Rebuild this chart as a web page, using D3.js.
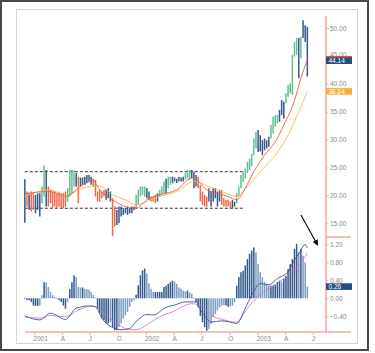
<!DOCTYPE html>
<html lang="en">
<head>
<meta charset="UTF-8">
<title>Weekly bars with MACD</title>
<script src="https://d3js.org/d3.v7.min.js"></script>
<style>
  body { margin: 0; background: #fff; }
  svg { display: block; font-family: "Liberation Sans", Arial, sans-serif; }
  .lbl text { fill: #8a8a8a; font-size: 6.5px; }
</style>
</head>
<body>
<svg id="chart" width="375" height="353"></svg>
<script>
// weekly bars, first week starts 1 Dec 2000
const highs = [22.9,20.7,20.4,20.7,20.4,20.1,20.4,20.4,21.6,25.4,24.55,21.6,21.0,20.7,20.7,20.4,20.7,20.4,20.4,20.7,
  21.3,24.55,24.55,24.55,24.0,23.35,23.2,23.2,23.35,23.66,23.66,23.35,23.0,22.8,20.7,21.0,20.7,21.0,21.0,21.3,
  20.7,19.5,18.0,17.4,18.0,18.0,17.7,17.7,18.0,17.7,18.0,18.0,20.1,21.0,21.6,21.6,21.6,21.3,20.7,19.8,
  19.8,20.1,20.4,21.0,21.6,22.5,23.0,23.35,23.35,23.35,23.2,23.0,23.35,23.2,23.35,24.0,24.55,24.55,24.55,24.25,
  23.66,23.35,21.86,20.7,20.1,19.8,21.3,20.7,21.3,21.3,20.7,21.0,21.0,19.5,19.2,19.2,18.9,19.2,18.9,20.4,
  21.6,23.66,24.25,24.8,26.0,26.6,27.5,30.2,31.4,31.7,30.8,29.9,30.2,29.9,30.5,32.6,34.1,34.4,34.4,35.3,
  37.1,36.8,38.3,39.8,40.1,45.2,47.5,48.2,48.2,48.45,51.4,50.5,50.2];
const lows = [15.1,18.0,17.4,17.1,17.4,16.8,17.4,16.2,18.6,19.8,18.0,18.0,18.6,17.7,18.0,17.7,18.0,17.7,17.7,18.0,
  18.9,19.8,20.4,21.6,21.6,18.6,21.6,21.9,21.9,22.2,22.5,21.9,21.6,19.8,18.9,18.9,19.5,19.8,19.2,19.5,
  18.9,12.7,14.4,14.7,15.0,16.2,16.5,16.8,16.5,16.8,16.8,17.4,17.7,18.3,19.8,20.1,19.8,19.5,19.2,18.9,
  18.9,18.6,18.9,19.8,20.1,20.4,20.4,21.3,21.9,22.2,22.5,22.2,22.5,22.5,22.5,22.8,23.1,22.8,23.1,21.3,
  21.6,21.3,18.9,18.3,18.0,18.0,18.9,18.0,18.9,19.5,18.0,18.9,18.3,18.0,18.0,18.0,17.8,17.7,18.0,18.6,
  19.8,21.3,22.46,23.0,24.0,24.55,25.2,27.2,28.4,27.8,27.9,27.2,28.1,28.4,28.7,30.2,31.1,32.3,32.9,33.2,
  34.4,33.8,36.5,37.7,38.3,38.0,44.9,45.2,41.0,44.6,48.2,47.5,41.3];
// impulse colour of each bar: g = up, b = neutral, r = down
const impulse = ("b r b r r b b b g g b r r r r r r r r r " +
  "g g g g b r b b b b b b r r r r r r b b " +
  "b r r b b b b b b b b b g g g g g b b r " +
  "r r b g g g b g g b b b b b b g g g b b " +
  "b r r r r r b b b b b b r r r r r b b g " +
  "g g g g g g g g g b b b b b b g g g g b " +
  "b b g g g g g g b g b b b").trim().split(" ");
const macdHist = [-0.02,-0.04,-0.04,-0.08,-0.16,-0.17,-0.17,-0.16,0.07,0.36,0.35,0.25,0.14,0.07,0.03,-0.02,-0.04,-0.08,-0.16,-0.23,
  -0.08,0.21,0.36,0.51,0.47,0.25,0.24,0.24,0.21,0.20,0.19,0.14,0.07,0.02,-0.23,-0.34,-0.45,-0.49,-0.56,-0.56,
  -0.53,-0.64,-0.71,-0.71,-0.64,-0.56,-0.45,-0.38,-0.30,-0.19,-0.08,-0.04,0.08,0.29,0.51,0.62,0.66,0.55,0.33,0.21,
  0.14,0.14,0.14,0.14,0.14,0.25,0.28,0.32,0.36,0.39,0.37,0.32,0.24,0.21,0.17,0.15,0.17,0.13,0.10,0.02,
  -0.09,-0.20,-0.39,-0.53,-0.64,-0.72,-0.68,-0.57,-0.42,-0.35,-0.27,-0.20,-0.16,-0.15,-0.16,-0.19,-0.18,-0.16,-0.09,0.28,
  0.47,0.58,0.61,0.73,0.87,0.99,1.06,1.13,1.02,0.76,0.58,0.47,0.36,0.32,0.28,0.28,0.28,0.30,0.36,0.39,
  0.36,0.43,0.50,0.65,0.76,0.87,1.10,1.21,1.02,1.10,0.95,0.80,0.26];

// moving averages, read at selected weeks
const fastMaWeeks = [0,12,19,26,32,35,41,47,52,57,63,71,78,81,85,90,95,99,103,107,112,117,121,126,129,132];
const fastMa = [20.3,20.7,19.8,21.6,22.6,21.0,19.2,18.0,17.7,19.2,20.1,21.0,23.1,22.5,21.0,20.4,19.8,19.2,21.3,24.25,27.2,29.6,32.6,37.0,41.0,44.4];
const slowMaWeeks = [0,12,19,27,35,41,47,52,57,63,71,79,86,92,99,104,110,117,123,128,132];
const slowMa = [19.9,21.0,19.9,21.3,21.7,20.1,19.2,18.3,18.9,19.8,20.7,22.5,21.6,20.7,19.8,21.6,24.25,27.2,30.8,35.0,38.64];

// MACD and signal lines
const macdWeeks = [0,7,12,19,24,30,33,36,42,45,49,52,57,60,66,70,75,80,82,85,87,92,96,99,103,106,110,114,118,123,126,129,131,132];
const macdLine = [-0.39,-0.48,-0.33,-0.47,-0.22,-0.17,-0.19,-0.44,-0.67,-0.70,-0.67,-0.52,-0.36,-0.37,-0.20,-0.15,-0.08,-0.08,-0.25,-0.45,-0.53,-0.50,-0.53,-0.56,-0.22,0.07,0.33,0.30,0.44,0.59,0.85,1.07,1.20,1.12];
const signalWeeks = [0,7,12,19,25,32,36,43,47,52,57,63,69,78,83,87,93,99,104,109,114,118,123,128,132];
const signalLine = [-0.42,-0.44,-0.38,-0.41,-0.26,-0.17,-0.30,-0.56,-0.67,-0.70,-0.59,-0.41,-0.30,-0.12,-0.19,-0.37,-0.48,-0.53,-0.22,0.04,0.22,0.33,0.52,0.74,1.0];

const lastClose = 44.14;
const channelLevels = [24.25, 17.7];
const channelEnd = new Date(2002, 10, 18);
const priceTicks = [15, 20, 25, 30, 35, 40, 45, 50];
const macdTicks = [-0.4, 0, 0.4, 0.8, 1.2];
const quarterNames = {0: null, 3: "A", 6: "J", 9: "O"};
const arrowFrom = [new Date(2003, 4, 23), 1.85];
const arrowTo = [new Date(2003, 6, 17), 1.18];

const start = new Date(2000, 11, 1);
const weekDate = i => d3.timeWeek.offset(start, i);

const svg = d3.select("#chart");
const salmon = "#f5ab9b";
const colors = { g: "#62c08f", b: "#36598c", r: "#ef6a4d" };

const x = d3.scaleTime()
  .domain([new Date(2001, 0, 1), new Date(2003, 0, 1)])
  .range([34.3, 257.5]);
const yP = d3.scaleLinear().domain([15, 50]).range([223.3, 28.0]);
const yM = d3.scaleLinear().domain([-0.4, 1.2]).range([316.3, 244.3]);
const axisX = 326;

// frames
svg.append("rect").attr("x", 1).attr("y", 1).attr("width", 367).attr("height", 349)
  .attr("fill", "none").attr("stroke", "#4d4740").attr("stroke-width", 2);
svg.append("rect").attr("x", 16.5).attr("y", 9.5).attr("width", 341).attr("height", 334)
  .attr("fill", "none").attr("stroke", "#d4d4d4");

// channel
svg.append("g").selectAll("line").data(channelLevels).join("line")
  .attr("x1", x(start)).attr("x2", x(channelEnd))
  .attr("y1", d => yP(d)).attr("y2", d => yP(d))
  .attr("stroke", "#333").attr("stroke-dasharray", "3,2");

// price bars
svg.append("g").selectAll("line").data(highs).join("line")
  .attr("x1", (d, i) => x(weekDate(i))).attr("x2", (d, i) => x(weekDate(i)))
  .attr("y1", d => yP(d)).attr("y2", (d, i) => yP(lows[i]))
  .attr("stroke", (d, i) => colors[impulse[i]]).attr("stroke-width", 1.5);

// moving averages
const maLine = (weeks, yScale) => d3.line()
  .x((d, i) => x(weekDate(weeks[i]))).y(d => yScale(d))
  .curve(d3.curveMonotoneX);
svg.append("path").datum(slowMa).attr("d", maLine(slowMaWeeks, yP))
  .attr("fill", "none").attr("stroke", "#f8b64e").attr("stroke-width", 0.9);
svg.append("path").datum(fastMa).attr("d", maLine(fastMaWeeks, yP))
  .attr("fill", "none").attr("stroke", "#ec5e44").attr("stroke-width", 0.9);

// MACD histogram: dark when growing away from zero, light when shrinking
svg.append("g").selectAll("rect").data(macdHist).join("rect")
  .attr("x", (d, i) => x(weekDate(i)) - 0.75).attr("width", 1.5)
  .attr("y", d => yM(Math.max(0, d))).attr("height", d => Math.abs(yM(d) - yM(0)))
  .attr("fill", (d, i) => i > 0 && Math.abs(d) < Math.abs(macdHist[i - 1]) ? "#7d9cc2" : "#34598c");

svg.append("path").datum(signalLine).attr("d", maLine(signalWeeks, yM))
  .attr("fill", "none").attr("stroke", "#d56fc6").attr("stroke-width", 0.8);
svg.append("path").datum(macdLine).attr("d", maLine(macdWeeks, yM))
  .attr("fill", "none").attr("stroke", "#35598f").attr("stroke-width", 0.9);

// axes lines
svg.append("line").attr("x1", axisX).attr("x2", axisX).attr("y1", 16).attr("y2", 332)
  .attr("stroke", salmon).attr("stroke-width", 1.6);
svg.append("line").attr("x1", axisX).attr("x2", 351).attr("y1", 237).attr("y2", 237)
  .attr("stroke", salmon).attr("stroke-width", 1.6);
svg.append("line").attr("x1", x(start)).attr("x2", 351).attr("y1", 332).attr("y2", 332)
  .attr("stroke", salmon).attr("stroke-width", 1.6);

// price axis
const pAxis = svg.append("g").attr("class", "lbl").attr("transform", `translate(${axisX},0)`)
  .call(d3.axisRight(yP).tickValues(priceTicks).tickFormat(d3.format(".2f")).tickSize(2.5).tickPadding(1.5));
pAxis.select(".domain").remove();
pAxis.selectAll("line").attr("stroke", salmon);
// the 45.00 label sits just above the value boxes
pAxis.selectAll("text").filter(d => d === 45).attr("dy", "0.05em");

const mAxis = svg.append("g").attr("class", "lbl").attr("transform", `translate(${axisX},0)`)
  .call(d3.axisRight(yM).tickValues(macdTicks).tickFormat(d3.format(".2f")).tickSize(2.5).tickPadding(1.5));
mAxis.select(".domain").remove();
mAxis.selectAll("line").attr("stroke", salmon);

// time axis
const quarters = d3.timeMonth.every(3).range(new Date(2001, 0, 1), new Date(2003, 6, 2));
const tAxis = svg.append("g").attr("class", "lbl").attr("transform", "translate(0,332)")
  .call(d3.axisBottom(x).tickValues(quarters).tickSize(3).tickPadding(1)
    .tickFormat(d => quarterNames[d.getMonth()] || d.getFullYear()));
tAxis.select(".domain").remove();
tAxis.selectAll("line").attr("stroke", salmon);
tAxis.selectAll("text").attr("text-anchor", "start").attr("dx", -1.5);

// value boxes on the axis
const boxes = [
  { v: fastMa[fastMa.length - 1], y: yP, fill: "#e4503c", text: "" },
  { v: lastClose, y: yP, fill: "#1f4f86", text: d3.format(".2f")(lastClose) },
  { v: slowMa[slowMa.length - 1], y: yP, fill: "#f7ae36", text: d3.format(".2f")(slowMa[slowMa.length - 1]) },
  { v: macdHist[macdHist.length - 1], y: yM, fill: "#1f4f86", text: d3.format(".2f")(macdHist[macdHist.length - 1]) }
];
const bx = svg.append("g").selectAll("g").data(boxes).join("g")
  .attr("transform", d => `translate(${axisX},${d.y(d.v)})`);
bx.append("rect").attr("x", 0).attr("y", -3.3).attr("width", 26).attr("height", 6.6).attr("fill", d => d.fill);
bx.append("text").attr("x", 2.5).attr("y", 2.3).attr("font-size", 6.5).attr("fill", "#fff").text(d => d.text);

// arrow
svg.append("defs").append("marker").attr("id", "head")
  .attr("viewBox", "0 0 10 10").attr("refX", 9).attr("refY", 5)
  .attr("markerWidth", 5).attr("markerHeight", 5).attr("orient", "auto")
  .append("path").attr("d", "M0,0L10,5L0,10z").attr("fill", "#111");
svg.append("line")
  .attr("x1", x(arrowFrom[0])).attr("y1", yM(arrowFrom[1]))
  .attr("x2", x(arrowTo[0])).attr("y2", yM(arrowTo[1]))
  .attr("stroke", "#111").attr("stroke-width", 1.2).attr("marker-end", "url(#head)");
</script>
</body>
</html>
